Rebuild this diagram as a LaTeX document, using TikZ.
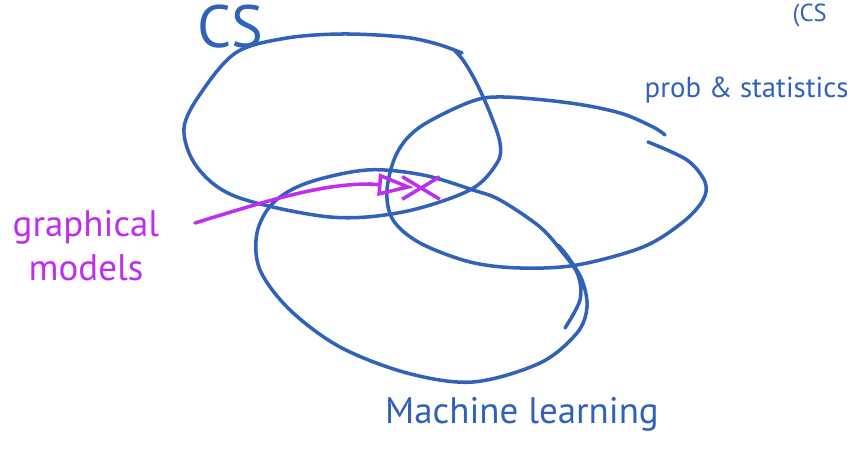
\documentclass[tikz,border=0pt]{standalone}
\usepackage{fontspec}
\setmainfont{PT Sans}
\usetikzlibrary{arrows.meta,shapes.misc}
\definecolor{inkblue}{RGB}{47,98,184}
\definecolor{inkpurple}{RGB}{190,45,240}
\tikzset{
  setline/.style  = {inkblue,line width=1pt,line cap=round,line join=round},
  setlabel/.style = {inkblue,inner sep=0pt},
  noteline/.style = {-{Triangle[open,length=3.6mm,width=2.2mm]},inkpurple,line width=1pt,line cap=round}
}
\begin{document}
\begin{tikzpicture}[x=0.01cm,y=-0.01cm]
  \useasboundingbox (0,0) rectangle (863,452);
  \clip (0,0) rectangle (863,452);
  % the three sets, traced as one stroke each
  \draw[setline] plot[smooth,tension=0.55] coordinates {(462,53) (437,44) (403,37) (343,34) (287,38)
        (237,52) (203,90) (184,128) (197,167) (237,197) (330,217) (403,212) (470,190) (497,163)
        (500,143) (490,113) (476,82) (463,60) (453,49)};
  \draw[setline] plot[smooth,tension=0.55] coordinates {(648,142) (687,160) (705,182) (703,200)
        (683,222) (643,247) (577,265) (520,268) (470,262) (420,243) (393,220) (387,190) (397,153)
        (420,127) (470,102) (503,97) (570,103) (620,113) (653,127) (665,135)};
  \draw[setline] plot[smooth,tension=0.55] coordinates {(565,328) (580,300) (578,275) (563,253)
        (540,227) (500,200) (473,190) (423,175) (367,170) (307,183) (273,203) (257,233) (260,270)
        (290,310) (340,347) (407,373) (473,382) (540,363) (577,333) (587,307) (582,280) (568,257)
        (558,245)};
  \node[setlabel,font=\fontsize{17}{19}\selectfont] (cs) at (230,27) {CS};
  \node[setlabel,font=\fontsize{8.2}{10}\selectfont,anchor=west] (probstat) at (644,90) {prob \& statistics};
  \node[setlabel,font=\fontsize{10.5}{12}\selectfont] (ml) at (522,414) {Machine learning};
  \node[setlabel,font=\fontsize{7}{8}\selectfont,anchor=north west] (csnote) at (792,3) {(CS};
  % the note on the left points into the middle
  \node[inkpurple,align=center,inner sep=0pt,font=\fontsize{10.5}{12.5}\selectfont] (gm) at (86,246) {graphical\\models};
  \node[cross out,draw=inkpurple,line width=1pt,minimum width=0.34cm,minimum height=0.19cm,
        inner sep=0pt] (gmtarget) at (421,188) {};
  \coordinate (gmtail) at (195,223);
  \draw[noteline,shorten >=2pt] (gmtail) .. controls (270,200) and (320,184) .. (370,184) -- (gmtarget.center);
\end{tikzpicture}
\end{document}
